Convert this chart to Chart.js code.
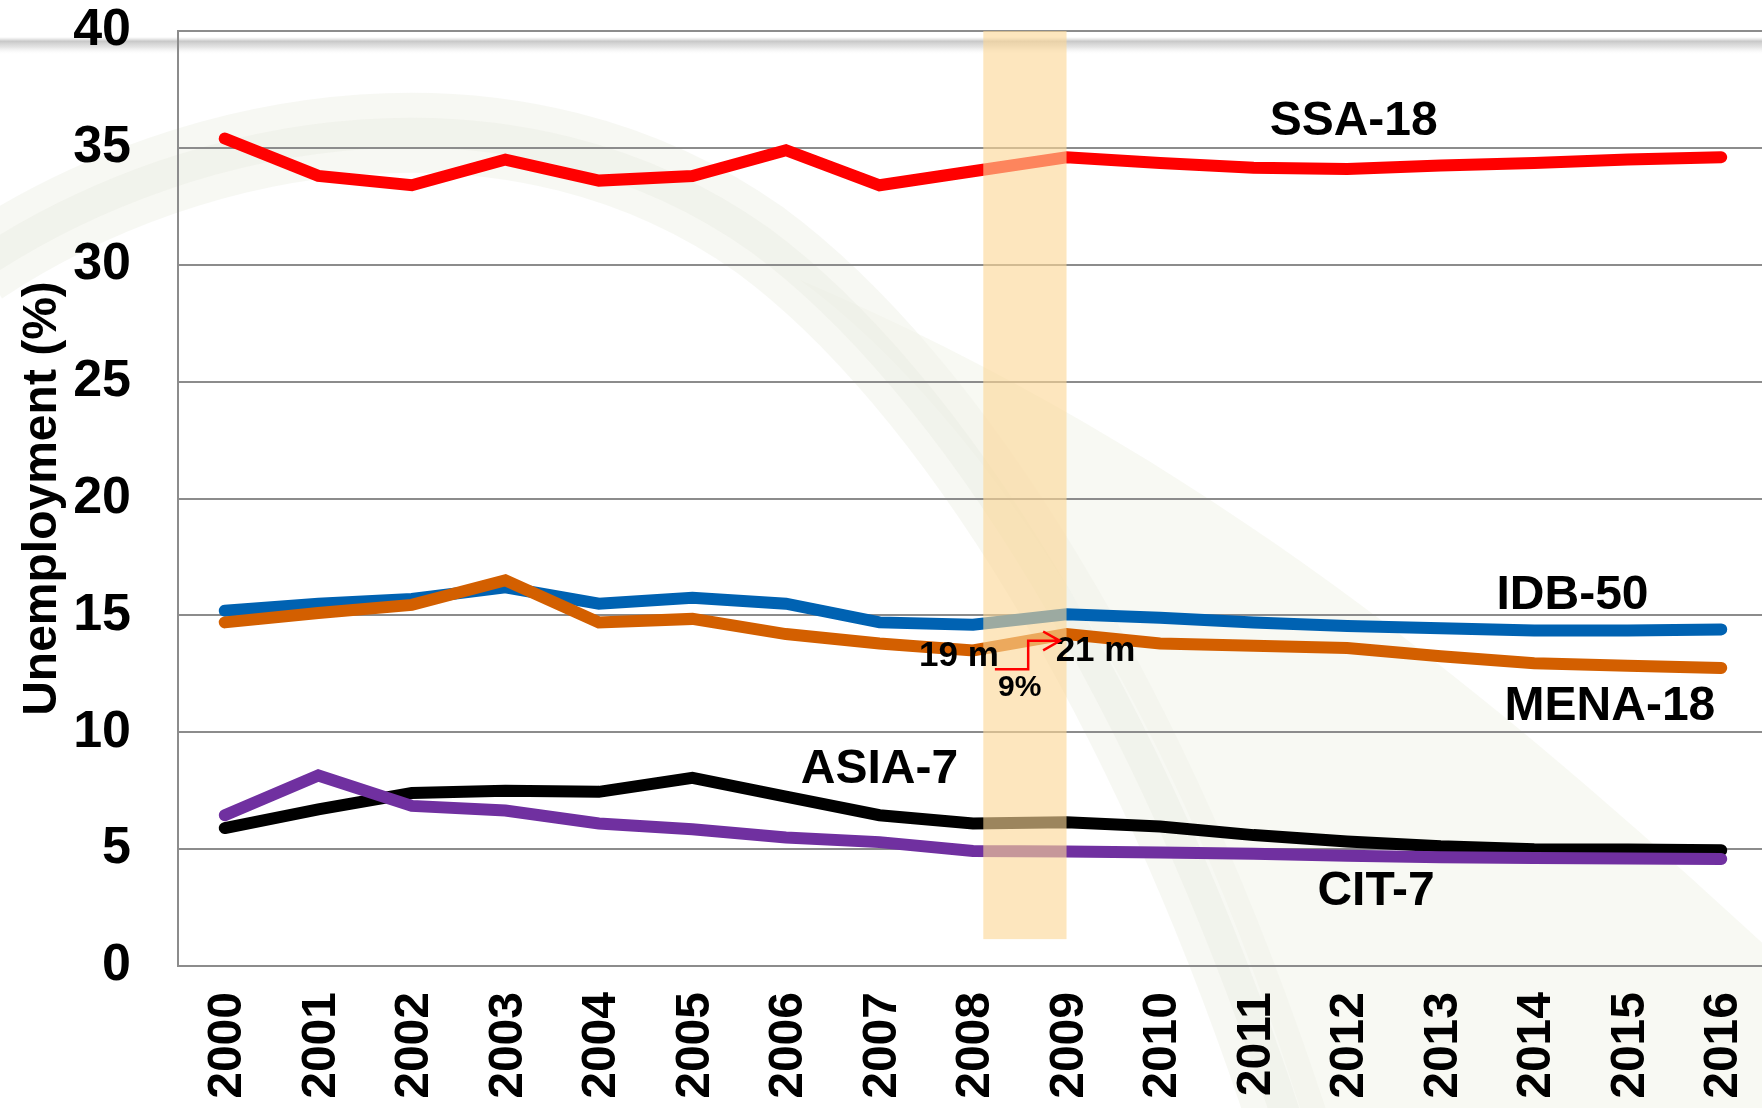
<!DOCTYPE html>
<html>
<head>
<meta charset="utf-8">
<title>Unemployment (%)</title>
<script src="https://cdn.jsdelivr.net/npm/chart.js@4.4.1/dist/chart.umd.min.js"></script>
<style>
    html, body { margin: 0; padding: 0; background: #fff; overflow: hidden; }
    #wrap { width: 1770px; height: 1108px; position: relative; }
</style>
</head>
<body>
<div id="wrap"><canvas id="unempChart"></canvas></div>
<script>
// Data
const years = ['2000', '2001', '2002', '2003', '2004', '2005', '2006', '2007', '2008',
               '2009', '2010', '2011', '2012', '2013', '2014', '2015', '2016'];
const ssa18  = [35.4, 33.8, 33.4, 34.5, 33.6, 33.8, 34.9, 33.4, 34.0, 34.6, 34.35, 34.15, 34.1, 34.25, 34.35, 34.5, 34.6];
const idb50  = [15.2, 15.5, 15.7, 16.2, 15.5, 15.75, 15.5, 14.7, 14.6, 15.05, 14.9, 14.7, 14.55, 14.45, 14.35, 14.35, 14.4];
const mena18 = [14.7, 15.1, 15.45, 16.5, 14.7, 14.85, 14.2, 13.8, 13.5, 14.2, 13.8, 13.7, 13.6, 13.25, 12.95, 12.85, 12.75];
const asia7  = [5.9, 6.7, 7.4, 7.5, 7.45, 8.05, 7.25, 6.45, 6.1, 6.15, 5.97, 5.6, 5.33, 5.12, 5.0, 4.98, 4.95];
const cit7   = [6.45, 8.15, 6.85, 6.65, 6.1, 5.85, 5.5, 5.3, 4.92, 4.9, 4.86, 4.8, 4.72, 4.65, 4.62, 4.6, 4.58];
const seriesNames = ['SSA-18', 'IDB-50', 'MENA-18', 'ASIA-7', 'CIT-7'];
const yTicks = [0, 5, 10, 15, 20, 25, 30, 35, 40];
const crisisNotes = ['19 m', '21 m', '9%'];

const FONT = "'Liberation Sans', Arial, sans-serif";

document.addEventListener('DOMContentLoaded', function() {
    // slide background: grey bar at the top and the pale swoosh
    const backdrop = {
        id: 'backdrop',
        beforeDraw(chart) {
            const ctx = chart.ctx;
            const w = chart.width, h = chart.height;
            ctx.save();
            ctx.fillStyle = '#fff';
            ctx.fillRect(0, 0, w, h);

            ctx.beginPath();
            ctx.moveTo(800, 280);
            ctx.bezierCurveTo(990, 420, 1180, 720, 1300, h);
            ctx.lineTo(w, h);
            ctx.lineTo(w, 950);
            ctx.bezierCurveTo(1500, 700, 1200, 450, 800, 280);
            ctx.closePath();
            ctx.fillStyle = 'rgba(245,247,238,0.7)';
            ctx.fill();

            ctx.beginPath();
            ctx.moveTo(-20, 265);
            ctx.bezierCurveTo(200, 120, 520, 70, 760, 240);
            ctx.bezierCurveTo(950, 380, 1150, 700, 1290, h + 20);
            ctx.strokeStyle = 'rgba(240,242,234,0.55)';
            ctx.lineWidth = 80;
            ctx.stroke();
            ctx.strokeStyle = 'rgba(232,235,226,0.4)';
            ctx.lineWidth = 30;
            ctx.stroke();

            const g = ctx.createLinearGradient(0, 37, 0, 54);
            g.addColorStop(0, 'rgba(215,215,215,0)');
            g.addColorStop(0.25, 'rgba(200,200,200,1)');
            g.addColorStop(0.6, 'rgba(222,222,222,0.8)');
            g.addColorStop(1, 'rgba(245,245,245,0)');
            ctx.fillStyle = g;
            ctx.fillRect(0, 37, w, 17);
            ctx.restore();
        }
    };

    // 2008-2009 highlight band, drawn over the lines
    const crisisBand = {
        id: 'crisisBand',
        afterDatasetsDraw(chart) {
            const ctx = chart.ctx;
            const xs = chart.scales.x, ys = chart.scales.y;
            const x0 = xs.getPixelForValue(8.11), x1 = xs.getPixelForValue(9);
            const y0 = ys.getPixelForValue(40), y1 = ys.getPixelForValue(1.15);
            ctx.save();
            ctx.fillStyle = 'rgba(252,214,150,0.62)';
            ctx.fillRect(x0, y0, x1 - x0, y1 - y0);
            ctx.restore();
        }
    };

    // series names, crisis notes and the red arrow
    const callouts = {
        id: 'callouts',
        afterDraw(chart) {
            const ctx = chart.ctx;
            const xs = chart.scales.x, ys = chart.scales.y;
            const px = v => xs.getPixelForValue(v);
            const py = v => ys.getPixelForValue(v);
            const tags = [
                [seriesNames[0], 12.07, 36.1, 48],
                [seriesNames[1], 14.41, 15.85, 48],
                [seriesNames[2], 14.81, 11.07, 48],
                [seriesNames[3], 7.0, 8.39, 48],
                [seriesNames[4], 12.31, 3.18, 48],
                [crisisNotes[0], 7.85, 13.23, 35],
                [crisisNotes[1], 9.31, 13.44, 35],
                [crisisNotes[2], 8.50, 11.9, 30]
            ];
            ctx.save();
            ctx.fillStyle = '#000';
            ctx.textAlign = 'center';
            ctx.textBaseline = 'middle';
            tags.forEach(function(t) {
                ctx.font = 'bold ' + t[3] + 'px ' + FONT;
                ctx.fillText(t[0], px(t[1]), py(t[2]));
            });

            ctx.strokeStyle = '#ff0000';
            ctx.lineWidth = 2.5;
            ctx.beginPath();
            ctx.moveTo(px(8.234), py(12.7));
            ctx.lineTo(px(8.59), py(12.7));
            ctx.lineTo(px(8.59), py(13.91));
            ctx.lineTo(px(8.929), py(13.91));
            ctx.moveTo(px(8.75), py(14.31));
            ctx.lineTo(px(8.929), py(13.91));
            ctx.lineTo(px(8.75), py(13.5));
            ctx.stroke();
            ctx.restore();
        }
    };

    function line(label, data, color, order) {
        return {
            label: label,
            data: data,
            borderColor: color,
            backgroundColor: color,
            borderWidth: 12,
            borderCapStyle: 'round',
            borderJoinStyle: 'miter',
            pointRadius: 0,
            pointHoverRadius: 0,
            tension: 0,
            fill: false,
            order: order
        };
    }

    const ctx = document.getElementById('unempChart');
    new Chart(ctx.getContext('2d'), {
        type: 'line',
        data: {
            labels: years,
            datasets: [
                line(seriesNames[0], ssa18, '#ff0000', 4),
                line(seriesNames[1], idb50, '#0062b2', 3),
                line(seriesNames[2], mena18, '#d35f00', 2),
                line(seriesNames[3], asia7, '#000000', 1),
                line(seriesNames[4], cit7, '#7030a0', 0)
            ]
        },
        options: {
            responsive: true,
            maintainAspectRatio: false,
            animation: false,
            events: [],
            layout: {
                padding: { top: 31, right: 2, bottom: 0, left: 0 }
            },
            plugins: {
                legend: { display: false },
                tooltip: { enabled: false }
            },
            scales: {
                x: {
                    offset: true,
                    grid: { display: false, drawTicks: false, tickLength: 0 },
                    border: { display: true, color: '#8c8c8c', width: 2 },
                    ticks: {
                        autoSkip: false,
                        minRotation: 90,
                        maxRotation: 90,
                        padding: 26,
                        labelOffset: 3,
                        color: '#000',
                        font: { family: FONT, size: 48, weight: 'bold' }
                    },
                    afterFit: function(scale) {
                        scale.height = 142;
                        scale.paddingLeft = 0;
                        scale.paddingRight = 0;
                    }
                },
                y: {
                    min: yTicks[0],
                    max: yTicks[yTicks.length - 1],
                    grid: { color: '#8c8c8c', lineWidth: 2, drawTicks: false, tickLength: 0 },
                    border: { display: true, color: '#8c8c8c', width: 2 },
                    afterBuildTicks: function(scale) {
                        scale.ticks = yTicks.map(v => ({ value: v }));
                    },
                    ticks: {
                        padding: 47,
                        color: '#000',
                        font: { family: FONT, size: 52, weight: 'bold' }
                    },
                    title: {
                        display: true,
                        text: 'Unemployment (%)',
                        color: '#000',
                        font: { family: FONT, size: 48, weight: 'bold' },
                        padding: { top: 14, bottom: 0 }
                    },
                    afterFit: function(scale) {
                        scale.width = 178;
                        scale.paddingTop = 0;
                        scale.paddingBottom = 0;
                    }
                }
            }
        },
        plugins: [backdrop, crisisBand, callouts]
    });
});
</script>
</body>
</html>
